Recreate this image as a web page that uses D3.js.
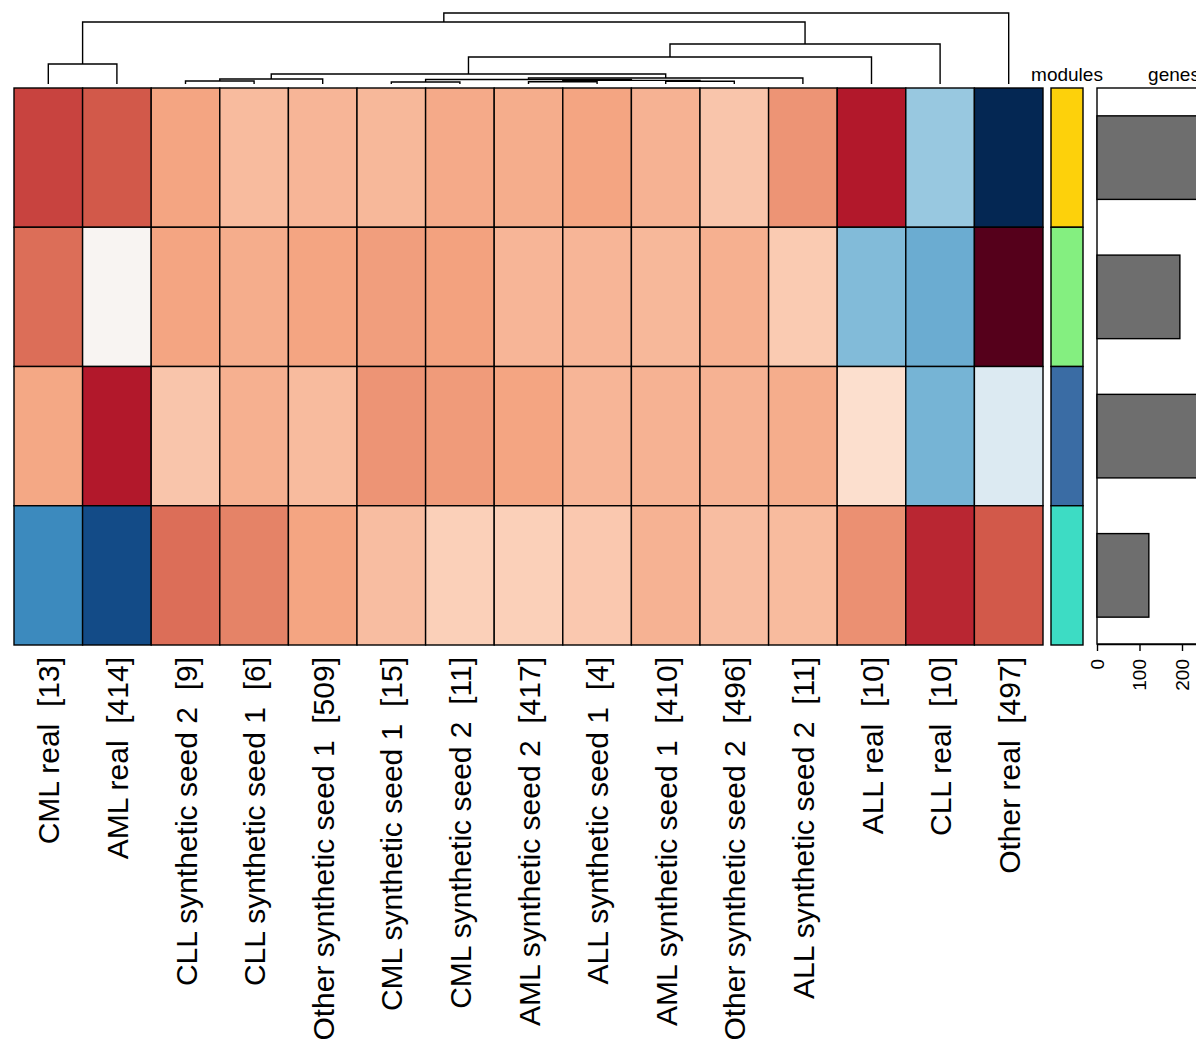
<!DOCTYPE html>
<html>
<head>
<meta charset="utf-8">
<script src="https://cdn.jsdelivr.net/npm/d3@7"></script>
<style>
  body { margin: 0; background: #fff; }
  svg text { font-family: "Liberation Sans", Arial, Helvetica, sans-serif; }
</style>
</head>
<body>
<div id="chart"></div>
<script>
// samples (column order of the heatmap) and their counts
const samples = [
    "CML real", "AML real", "CLL synthetic seed 2", "CLL synthetic seed 1",
    "Other synthetic seed 1", "CML synthetic seed 1", "CML synthetic seed 2",
    "AML synthetic seed 2", "ALL synthetic seed 1", "AML synthetic seed 1",
    "Other synthetic seed 2", "ALL synthetic seed 2", "ALL real", "CLL real", "Other real"
];
const counts = [13, 414, 9, 6, 509, 15, 11, 417, 4, 410, 496, 11, 10, 10, 497];

// modules (rows), their colours and gene counts
const modules      = ["yellow", "green", "blue", "turquoise"];
const moduleColors = ["#fdd10b", "#84ef80", "#3a6ca4", "#3ddcc4"];
const genes        = [310, 195, 290, 122];
const geneTicks    = [0, 100, 200, 300];

// scaled module scores, one array per module, in sample order
const scoreYellow    = [0.68, 0.62, 0.40, 0.32, 0.34, 0.33, 0.38, 0.37, 0.40, 0.35, 0.28, 0.45, 0.80, -0.38, -1.06];
const scoreGreen     = [0.56, 0.02, 0.40, 0.37, 0.40, 0.42, 0.41, 0.34, 0.34, 0.33, 0.36, 0.26, -0.44, -0.50, 1.08];
const scoreBlue      = [0.39, 0.80, 0.28, 0.36, 0.32, 0.45, 0.43, 0.40, 0.34, 0.35, 0.35, 0.37, 0.17, -0.47, -0.14];
const scoreTurquoise = [-0.64, -0.90, 0.56, 0.50, 0.40, 0.31, 0.24, 0.24, 0.27, 0.35, 0.31, 0.32, 0.46, 0.76, 0.62];
const scores = [scoreYellow, scoreGreen, scoreBlue, scoreTurquoise];

// column dendrogram: [left, right, height]; strings are samples, numbers earlier merges
const merges = [
    ["CML real", "AML real", 20],                          // 0
    ["CLL synthetic seed 2", "CLL synthetic seed 1", 3],   // 1
    [1, "Other synthetic seed 1", 5],                      // 2
    ["CML synthetic seed 1", "CML synthetic seed 2", 2],   // 3
    ["AML synthetic seed 2", "ALL synthetic seed 1", 2.2], // 4
    ["AML synthetic seed 1", "Other synthetic seed 2", 2.7], // 5
    [4, 5, 3.6],                                           // 6
    [3, 6, 4.5],                                           // 7
    [7, "ALL synthetic seed 2", 6],                        // 8
    [2, 8, 10],                                            // 9
    [9, "ALL real", 27],                                   // 10
    [10, "CLL real", 40],                                  // 11
    [0, 11, 62],                                           // 12
    [12, "Other real", 71]                                 // 13
];

const W = 1196, H = 1053;
const svg = d3.select("#chart").append("svg")
    .attr("width", W).attr("height", H);

// scales
const x = d3.scaleBand().domain(samples).range([14, 1043]);
const y = d3.scaleBand().domain(modules).range([88, 645]);
const dendY = d3.scaleLinear().domain([0, 71]).range([84, 13]);
// RdBu with slightly darker ends
const color = d3.scaleLinear()
    .domain([1.1].concat(d3.range(11).map(i => 1 - i * 0.2), [-1.1]))
    .range(["#50001a"].concat(d3.schemeRdBu[11], ["#03214a"]))
    .clamp(true);

// heatmap cells
const cells = [];
scores.forEach((row, r) => row.forEach((v, c) => cells.push({ m: modules[r], s: samples[c], v })));
svg.append("g").selectAll("rect")
    .data(cells)
    .enter().append("rect")
    .attr("x", d => x(d.s))
    .attr("y", d => y(d.m))
    .attr("width", x.bandwidth())
    .attr("height", y.bandwidth())
    .attr("fill", d => color(d.v))
    .attr("stroke", "#000")
    .attr("stroke-width", 1.4);

// dendrogram
const nodes = merges.map(() => null);
const pos = k => typeof k === "string"
    ? { x: x(k) + x.bandwidth() / 2, h: 0 }
    : nodes[k];
const dendG = svg.append("g")
    .attr("fill", "none").attr("stroke", "#000").attr("stroke-width", 1.4);
merges.forEach((m, i) => {
    const a = pos(m[0]), b = pos(m[1]);
    const hy = dendY(m[2]);
    dendG.append("path")
        .attr("d", `M${a.x},${dendY(a.h)}V${hy}H${b.x}V${dendY(b.h)}`);
    nodes[i] = { x: (a.x + b.x) / 2, h: m[2] };
});

// column labels
svg.append("g").selectAll("text")
    .data(samples)
    .enter().append("text")
    .attr("transform", d => `translate(${x(d) + x.bandwidth() / 2 + 11},657) rotate(-90)`)
    .attr("text-anchor", "end")
    .style("white-space", "pre")
    .style("font-size", "30px")
    .text((d, i) => `${d}  [${counts[i]}]`);

// modules annotation
svg.append("g").selectAll("rect")
    .data(modules)
    .enter().append("rect")
    .attr("x", 1051)
    .attr("y", d => y(d))
    .attr("width", 32)
    .attr("height", y.bandwidth())
    .attr("fill", (d, i) => moduleColors[i])
    .attr("stroke", "#000")
    .attr("stroke-width", 1.4);
svg.append("text")
    .attr("x", 1067).attr("y", 81)
    .attr("text-anchor", "middle")
    .style("font-size", "19px")
    .text("modules");

// genes bar panel
const gx = d3.scaleLinear().domain([0, 300]).range([1097, 1224.5]);
const gy = d3.scaleBand().domain(modules).range([88, 645]).paddingInner(0.4).paddingOuter(0.2);
svg.append("rect")
    .attr("x", 1097).attr("y", 88)
    .attr("width", 160).attr("height", 556)
    .attr("fill", "none").attr("stroke", "#000").attr("stroke-width", 1.4);
svg.append("g").selectAll("rect")
    .data(genes)
    .enter().append("rect")
    .attr("x", gx(0))
    .attr("y", (d, i) => gy(modules[i]))
    .attr("width", d => gx(d) - gx(0))
    .attr("height", gy.bandwidth())
    .attr("fill", "#6e6e6e")
    .attr("stroke", "#000")
    .attr("stroke-width", 1.4);
svg.append("text")
    .attr("x", 1174).attr("y", 81)
    .attr("text-anchor", "middle")
    .style("font-size", "19px")
    .text("genes");

const axisG = svg.append("g")
    .attr("transform", "translate(0,644)")
    .call(d3.axisBottom(gx).tickValues(geneTicks).tickSize(7).tickSizeOuter(0));
axisG.select(".domain").attr("stroke-width", 1.4);
axisG.selectAll(".tick line").attr("stroke-width", 1.4);
axisG.selectAll(".tick text")
    .attr("transform", "translate(6,15) rotate(-90)")
    .attr("x", 0).attr("y", 0).attr("dy", 0)
    .attr("text-anchor", "end")
    .style("font-size", "19px")
    .style("font-family", "'Liberation Sans', Arial, sans-serif")
    .attr("fill", "#000");
</script>
</body>
</html>
